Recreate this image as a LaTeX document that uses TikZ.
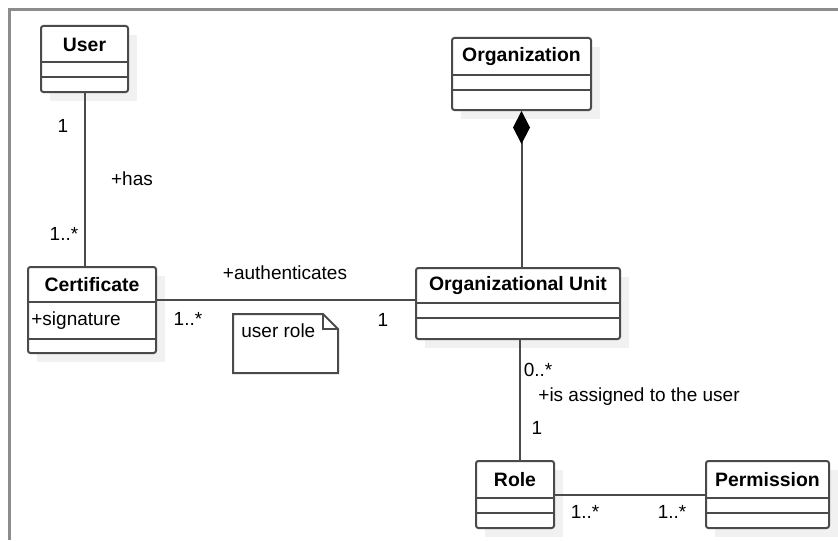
\documentclass[tikz,border=0pt]{standalone}
\usepackage{fontspec}
\setmainfont{Liberation Sans}
\usetikzlibrary{arrows.meta,calc}
\definecolor{framegray}{HTML}{8C8C8C}
\definecolor{linegray}{HTML}{4A4A4A}
\definecolor{shadowgray}{HTML}{F1F1F1}
\tikzset{
  umlbox/.style={draw=linegray,line width=1pt,rounded corners=1.2pt,fill=white,inner sep=0pt,anchor=north west},
  umltitle/.style={font=\fontsize{9.7}{11}\selectfont\bfseries},
  assoc/.style={draw=linegray,line width=1pt},
  mult/.style={font=\fontsize{9.5}{11}\selectfont,inner sep=0pt},
}
% name, x, y, width, height, first rule, second rule, title
\newcommand\UmlClass[8]{%
  \fill[shadowgray] (#2+10,#3+10) rectangle ++(#4,#5);
  \node[umlbox,minimum width=#4*0.5pt,minimum height=#5*0.5pt] (#1) at (#2,#3) {};
  \draw[linegray,line width=1pt] (#1.north west) ++(0,#6) -- ++(#4,0)
    (#1.north west) ++(0,#7) -- ++(#4,0);
  \node[umltitle] (#1-title) at ($(#1.north)+(0,#6/2+1)$) {#8};}

\begin{document}
\begin{tikzpicture}[x=0.5pt,y=-0.5pt]
    \useasboundingbox (0,0) rectangle (838,540);
    \draw[framegray,line width=1.5pt] (9.5,540) -- (9.5,9.5) -- (838,9.5);
    \UmlClass{user}{40}{25}{87}{66}{37}{52}{User}
    \UmlClass{org}{451}{37}{139}{72}{38}{53}{Organization}
    \UmlClass{cert}{27}{266}{128}{86}{36}{73}{Certificate}
    \UmlClass{ou}{415}{267}{204}{71}{36}{51}{Organizational Unit}
    \UmlClass{role}{475}{460}{78}{67}{38}{53}{Role}
    \UmlClass{perm}{705}{460}{123}{67}{38}{53}{Permission}
    \node[mult,anchor=west] (sig) at (31,321) {+signature};
    % associations
    \draw[assoc] (user.south) -- (user.south |- cert.north);
    \draw[assoc] (ou.west |- 0,300) -- (cert.east |- 0,300);
    \draw[assoc,{Diamond[length=16.5pt,width=8.5pt,fill=black,color=black]}-] (org.south) -- (org.south |- ou.north);
    \draw[assoc] (ou.south) ++(2,0) -- ($(role.north)+(5,0)$);
    \draw[assoc] (role.east) -- (perm.west);
    % note
    \draw[assoc] (233,314) -- (323,314) -- (338,329) -- (338,373) -- (233,373) -- cycle;
    \draw[assoc] (323,314) -- (323,329) -- (338,329);
    \node[mult,anchor=west] (note) at (241,331) {user role};
    % labels
    \node[mult] (m1) at (63,126) {1};
    \node[mult] (has) at (132,179) {+has};
    \node[mult] (m2) at (64,234) {1..*};
    \node[mult] (auth) at (285,273) {+authenticates};
    \node[mult] (m3) at (188,319) {1..*};
    \node[mult] (m4) at (383,320) {1};
    \node[mult] (m5) at (538,370) {0..*};
    \node[mult] (assign) at (639,397) {+is assigned to the user};
    \node[mult] (m6) at (537,428) {1};
    \node[mult] (m7) at (585,512) {1..*};
    \node[mult] (m8) at (672,512) {1..*};
\end{tikzpicture}
\end{document}
